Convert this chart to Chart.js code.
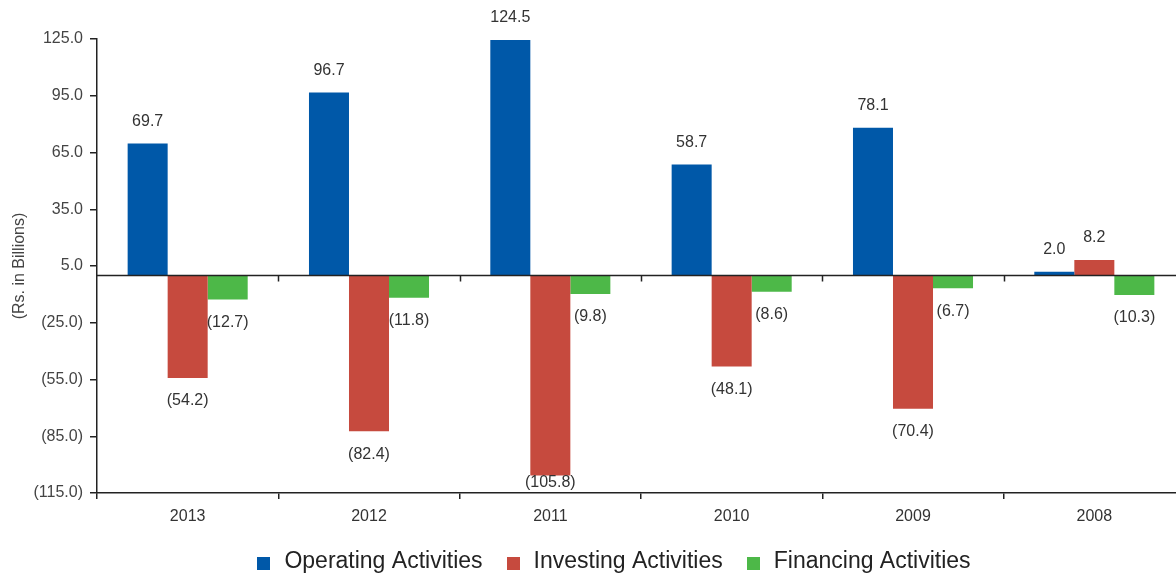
<!DOCTYPE html>
<html>
<head>
<meta charset="utf-8">
<script src="https://cdn.jsdelivr.net/npm/chart.js@4"></script>
<style>
  html, body { margin: 0; padding: 0; background: #fff; overflow: hidden; }
  #wrap { width: 1185px; height: 573px; position: relative; }
</style>
</head>
<body>
<div id="wrap"><canvas id="cashChart"></canvas></div>
<script>
const years = ["2013", "2012", "2011", "2010", "2009", "2008"];
const operating = [69.7, 96.7, 124.5, 58.7, 78.1, 2.0];
const investing = [-54.2, -82.4, -105.8, -48.1, -70.4, 8.2];
const financing = [-12.7, -11.8, -9.8, -8.6, -6.7, -10.3];
const yTicks = [-115, -85, -55, -25, 5, 35, 65, 95, 125];

const fontFamily = "'Liberation Sans', Arial, sans-serif";
const axisColor = "#222";

function fmt(v) {
  const s = Math.abs(v).toFixed(1);
  return v < 0 ? "(" + s + ")" : s;
}

// value labels above / below each bar
const barLabels = {
  id: "barLabels",
  afterDatasetsDraw(chart) {
    const ctx = chart.ctx;
    const area = chart.chartArea;
    ctx.save();
    ctx.font = "16px " + fontFamily;
    ctx.fillStyle = "#333";
    ctx.textAlign = "center";
    ctx.textBaseline = "middle";
    chart.data.datasets.forEach((ds, i) => {
      chart.getDatasetMeta(i).data.forEach((bar, j) => {
        const v = ds.data[j];
        let y = v >= 0 ? bar.y - 22 : bar.y + 23;
        y = Math.min(y, area.bottom - 10);
        ctx.fillText(fmt(v), bar.x, y);
      });
    });
    ctx.restore();
  },
};

// black line at zero with small ticks at the category edges
const zeroLine = {
  id: "zeroLine",
  afterDatasetsDraw(chart) {
    const ctx = chart.ctx;
    const area = chart.chartArea;
    const x = chart.scales.x;
    const y0 = Math.round(chart.scales.y.getPixelForValue(0)) + 0.5;
    const half = (x.getPixelForValue(1) - x.getPixelForValue(0)) / 2;
    ctx.save();
    ctx.strokeStyle = axisColor;
    ctx.lineWidth = 1.5;
    ctx.beginPath();
    ctx.moveTo(area.left, y0);
    ctx.lineTo(area.right, y0);
    for (let i = 1; i < years.length; i++) {
      const px = Math.round(x.getPixelForValue(i) - half) + 0.5;
      ctx.moveTo(px, y0);
      ctx.lineTo(px, y0 + 6);
    }
    ctx.stroke();
    ctx.restore();
  },
};

// legend row under the axis, centred like the reference
const bottomLegend = {
  id: "bottomLegend",
  afterDraw(chart) {
    const ctx = chart.ctx;
    const box = 13, gapText = 14, gapItem = 24, center = 614, midY = 562;
    ctx.save();
    ctx.font = "23px " + fontFamily;
    const items = chart.data.datasets.map((ds) => ({
      text: ds.label,
      color: ds.backgroundColor,
      w: ctx.measureText(ds.label).width,
    }));
    const total = items.reduce((s, it) => s + box + gapText + it.w, 0) + gapItem * (items.length - 1);
    let x = center - total / 2;
    ctx.textBaseline = "middle";
    items.forEach((it) => {
      ctx.fillStyle = it.color;
      ctx.fillRect(Math.round(x), midY - 5, box, box);
      x += box + gapText;
      ctx.fillStyle = "#222";
      ctx.fillText(it.text, x, midY);
      x += it.w + gapItem;
    });
    ctx.restore();
  },
};

new Chart(document.getElementById("cashChart"), {
  type: "bar",
  data: {
    labels: years,
    datasets: [
      {
        label: "Operating Activities",
        data: operating,
        backgroundColor: "#0058A8",
      },
      {
        label: "Investing Activities",
        data: investing,
        backgroundColor: "#C64A3E",
      },
      {
        label: "Financing Activities",
        data: financing,
        backgroundColor: "#4DB848",
      },
    ],
  },
  plugins: [barLabels, zeroLine, bottomLegend],
  options: {
    responsive: true,
    maintainAspectRatio: false,
    animation: false,
    layout: { padding: { top: 39, left: 0, right: 0, bottom: 48 } },
    datasets: {
      bar: {
        barPercentage: 1,
        categoryPercentage: 0.662,
        borderWidth: 0,
      },
    },
    scales: {
      x: {
        grid: {
          display: true,
          drawOnChartArea: false,
          drawTicks: true,
          tickLength: 6,
          color: axisColor,
          lineWidth: 1.5,
          offset: true,
        },
        border: { display: true, color: axisColor, width: 1.5 },
        ticks: {
          padding: 8,
          color: "#333",
          font: { family: fontFamily, size: 16 },
        },
        afterFit(scale) {
          scale.height = 32;
        },
      },
      y: {
        min: -115,
        max: 125,
        afterBuildTicks(scale) {
          scale.ticks = yTicks.map((v) => ({ value: v }));
        },
        afterFit(scale) {
          scale.width = 97;
        },
        grid: {
          display: true,
          drawOnChartArea: false,
          drawTicks: true,
          tickLength: 7,
          color: axisColor,
          lineWidth: 1.5,
        },
        border: { display: true, color: axisColor, width: 1.5 },
        ticks: {
          padding: 7,
          color: "#444",
          font: { family: fontFamily, size: 16 },
          callback: (v) => fmt(v),
        },
        title: {
          display: true,
          text: "(Rs. in Billions)",
          color: "#444",
          font: { family: fontFamily, size: 16 },
          padding: { top: 10, bottom: 0 },
        },
      },
    },
    plugins: {
      tooltip: { enabled: false },
      legend: { display: false },
    },
  },
});
</script>
</body>
</html>
